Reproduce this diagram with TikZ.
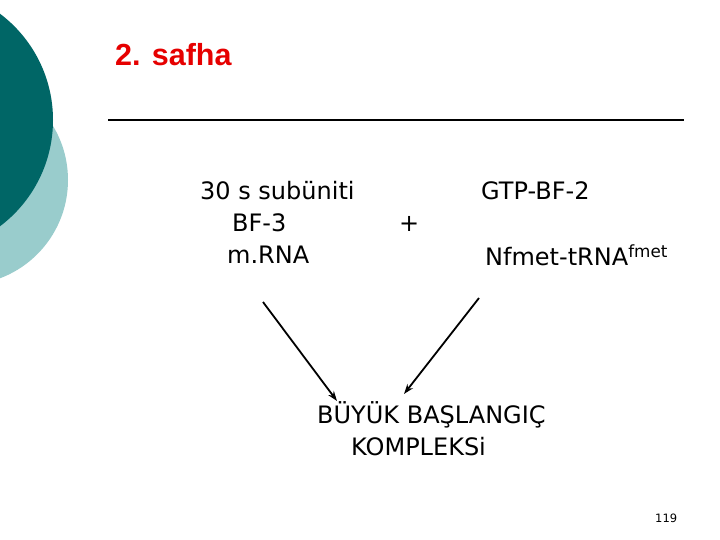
\documentclass[tikz,border=0pt]{standalone}
\usepackage{fontspec}
\setmainfont{DejaVu Sans}
\newfontfamily\titlefont{Liberation Sans}
\definecolor{darkteal}{RGB}{0,102,102}
\definecolor{lightteal}{RGB}{153,204,204}
\definecolor{titlered}{RGB}{230,0,0}
\tikzset{
  body/.style={font=\fontsize{24bp}{28bp}\selectfont, inner sep=0pt, anchor=base west},
  arr/.style={-{Stealth[length=10bp,width=7bp]}, line width=1.8bp}
}
\usetikzlibrary{arrows.meta}
\begin{document}
\begin{tikzpicture}[x=1bp,y=-1bp]
\useasboundingbox (0,0) rectangle (720,540);
\fill[white] (0,0) rectangle (720,540);
\begin{scope}
\clip (0,0) rectangle (720,540);
\fill[lightteal] (-37,180) circle (105);
\fill[darkteal] (-80,120) circle (133);
\end{scope}
\node[inner sep=0pt, anchor=base west, text=titlered, font=\titlefont\bfseries\fontsize{30.5bp}{34bp}\selectfont] (title) at (115,66) {2. safha};
\draw[line width=1.8bp] (108,120) -- (684,120);
\node[body] (a1) at (200,200) {30 s subüniti};
\node[body] (a2) at (232,232) {BF-3};
\node[body] (a3) at (227,264) {m.RNA};
\node[body] (plus) at (399,232) {+};
\node[body] (b1) at (481,200) {GTP-BF-2};
\node[body] (b2) at (485,266) {Nfmet-tRNA\textsuperscript{fmet}};
\node[body] (c1) at (317,423) {BÜYÜK BAŞLANGIÇ};
\node[body] (c2) at (351,455) {KOMPLEKSi};
\node[inner sep=0pt, anchor=base west, font=\fontsize{11.5bp}{13bp}\selectfont] (pg) at (655,522) {119};
\coordinate (l0) at (263,302);
\coordinate (l1) at (337,401);
\coordinate (r0) at (479,298);
\coordinate (r1) at (404,394);
\draw[arr] (l0) -- (l1);
\draw[arr] (r0) -- (r1);
\end{tikzpicture}
\end{document}
